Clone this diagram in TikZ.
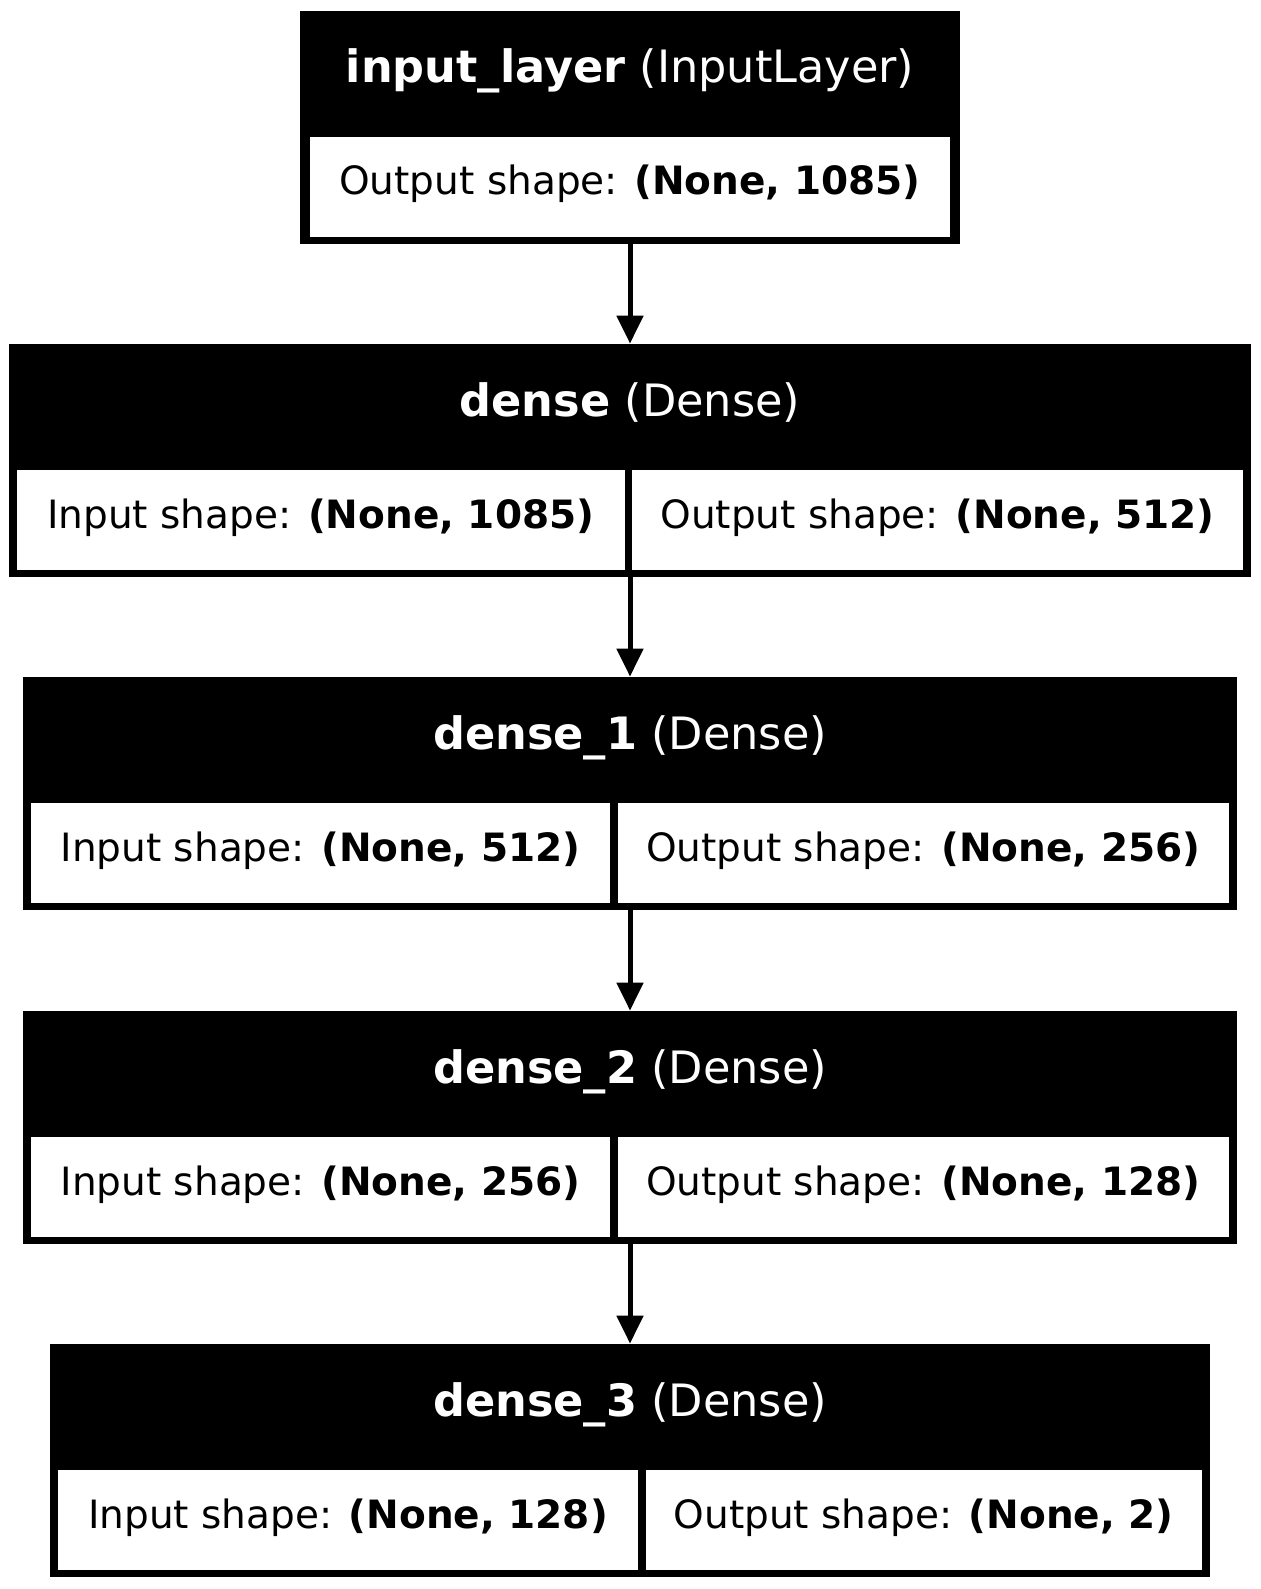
\documentclass[tikz,border=0pt]{standalone}
\usepackage{fontspec}
\setmainfont{DejaVu Sans}
\usetikzlibrary{arrows.meta,positioning}
\tikzset{>={Triangle[length=14pt,width=13pt]},x=0.5pt,y=-0.5pt,
 layer/.style={fill=black,inner sep=0pt,minimum height=116.5pt},
 headtxt/.style={anchor=base,inner sep=0pt,text=white,font=\fontsize{22.3}{26}\selectfont},
 celltxt/.style={anchor=base,inner sep=0pt,font=\fontsize{19.5}{23}\selectfont},
 link/.style={->,line width=2.5pt}}
\begin{document}
\begin{tikzpicture}
\useasboundingbox (0,0) rectangle (1261,1589);
% input layer
\node[layer,minimum width=330pt] (L0) at (630,127.5) {};
\fill[white] (310,137) rectangle (950,237);
\node[headtxt] (T0) at (630,83) {\textbf{input\_layer} (InputLayer)};
\node[celltxt] (O0) at (630,195) {Output shape: \textbf{(None, 1085)}};
% dense layers
\foreach \i/\lab/\top/\l/\dv/\r/\inp/\outp in {1/dense/344/9/624.5/1251/1085/512,
 2/dense\_1/677/23/610/1237/512/256,3/dense\_2/1011/23/610/1237/256/128,
 4/dense\_3/1344/50/638/1210/128/2}{
 \pgfmathsetmacro{\w}{(\r-\l)/2}
 \node[layer,minimum width=\w pt] (L\i) at ({(\l+\r)/2},{\top+116.5}) {};
 \fill[white] ({\l+8},{\top+126}) rectangle (\dv,{\top+226});
 \fill[white] ({\dv+7.5},{\top+126}) rectangle ({\r-8},{\top+226});
 \node[headtxt] (T\i) at (630,{\top+72}) {\textbf{\lab} (Dense)};
 \node[celltxt] (I\i) at ({(\l+8+\dv)/2},{\top+184}) {Input shape: \textbf{(None, \inp)}};
 \node[celltxt] (O\i) at ({(\dv+7.5+\r-8)/2},{\top+184}) {Output shape: \textbf{(None, \outp)}};
}
\foreach \i [count=\j] in {0,...,3}
 \draw[link] (L\i.south) -- (L\j.north);
\end{tikzpicture}
\end{document}
